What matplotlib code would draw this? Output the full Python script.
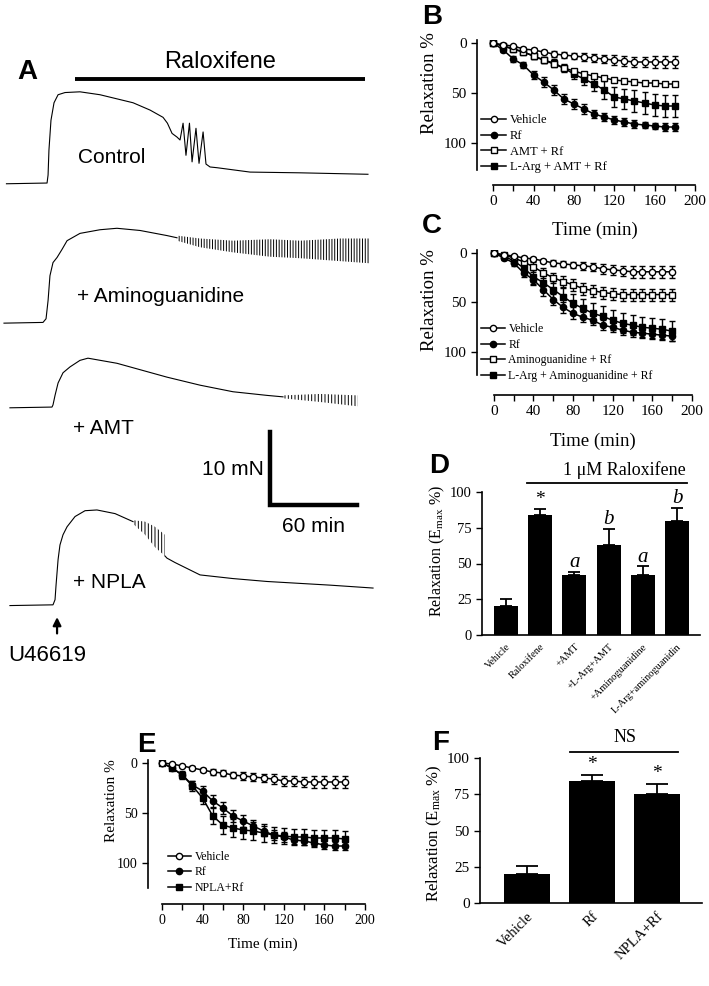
import matplotlib
matplotlib.use("Agg")
import matplotlib.pyplot as plt
from matplotlib.ticker import MultipleLocator
from matplotlib.transforms import ScaledTranslation

plt.rcParams["font.family"] = ["Liberation Serif", "DejaVu Serif"]
plt.rcParams["mathtext.fontset"] = "custom"
plt.rcParams["mathtext.rm"] = "Liberation Serif"
plt.rcParams["mathtext.it"] = "Liberation Serif:italic"
plt.rcParams["hatch.linewidth"] = 0.7
SANS = ["Liberation Sans", "DejaVu Sans"]

# ---------------- panel A: tension traces (time in min, tension in mN above baseline)
ctrl_t = [1, 29, 29.7, 30.3, 31.7, 33.8, 36.6, 41.4, 51.7, 65.5, 88.3, 100, 109, 112, 115.2,
          118.6, 120.7, 122.8, 124.8, 127.2, 129, 131.7, 133.8, 136.6, 138.6, 141.4, 146.2,
          169, 203.4, 250.3]
ctrl_f = [-0.1, 0, 1.1, 4.5, 8.6, 11.0, 12.1, 12.4, 12.5, 12.1, 11.0, 10.0, 9.0, 8.2, 6.8,
          6.3, 5.9, 8.2, 3.8, 8.2, 2.9, 7.5, 2.7, 7.0, 2.6, 2.2, 2.1, 1.5, 1.4, 1.2]

amg_t = [-0.7, 26.2, 28.3, 29.7, 31, 33.1, 35.9, 39.3, 42.8, 51.7, 65.5, 77.2, 93.1, 111.7, 118.6]
amg_f = [-0.1, 0, 0.5, 3.0, 6.4, 8.2, 8.9, 10.0, 11.2, 12.2, 12.7, 12.9, 12.6, 11.9, 11.6]
amg_osc_t = [118.6, 134.5, 157.2, 182.8, 203.4, 231, 251.7]
amg_osc_hi = [11.9, 11.5, 11.2, 11.4, 11.2, 11.5, 11.5]
amg_osc_lo = [11.2, 10.3, 9.6, 9.0, 8.8, 8.4, 8.1]

amt_t = [3.4, 32.4, 33.1, 34.5, 36.6, 40, 44.8, 51.7, 57.2, 77.2, 111.7, 134.5, 157.2, 180.7, 191.7]
amt_f = [-0.1, 0, 0.3, 1.6, 3.3, 4.7, 5.5, 6.4, 6.7, 6.0, 4.1, 3.0, 2.1, 1.6, 1.4]
amt_osc_t = [191.7, 217.2, 243.4]
amt_osc_hi = [1.6, 1.8, 1.6]
amt_osc_lo = [1.2, 0.7, 0.1]

npla_t = [3.4, 33.1, 34.5, 35.2, 36.6, 37.9, 40, 42.8, 48.3, 55.2, 63.4, 75.9, 88.3]
npla_f = [-0.1, 0, 0.7, 2.7, 6.2, 8.2, 9.6, 10.7, 12.1, 12.9, 13.0, 12.5, 11.4]
npla_osc_t = [88.3, 96.6, 103.4, 110.3]
npla_osc_hi = [11.6, 11.4, 10.7, 9.6]
npla_osc_lo = [11.1, 9.6, 7.9, 6.7]
npla_tail_t = [110.3, 111.7, 117.2, 134.5, 157.2, 180.7, 224.1, 253.8]
npla_tail_f = [6.7, 6.4, 5.8, 4.1, 3.6, 3.2, 2.7, 2.3]

# ---------------- panels B, C, E: time courses (relaxation %, mean and SEM)
time_min = [0, 10, 20, 30, 40, 50, 60, 70, 80, 90, 100, 110, 120, 130, 140, 150, 160, 170, 180]

b_veh = [0, 2, 3, 6, 7, 9, 11, 12, 13, 14, 15, 16, 17, 18, 19, 19, 19, 19, 19]
b_veh_err = [0, 1, 1, 2, 2, 2, 3, 3, 3, 4, 4, 4, 5, 5, 5, 5, 6, 6, 6]
b_rf = [0, 7, 16, 22, 32, 39, 47, 56, 61, 66, 71, 74, 77, 79, 81, 82, 83, 84, 84]
b_rf_err = [0, 2, 3, 3, 4, 5, 5, 5, 5, 5, 4, 4, 4, 4, 4, 3, 3, 4, 4]
b_amt = [0, 3, 6, 9, 13, 17, 21, 25, 28, 31, 33, 35, 37, 38, 39, 40, 40, 41, 41]
b_amt_err = [0, 1, 1, 2, 2, 2, 2, 2, 2, 2, 2, 2, 2, 2, 2, 2, 2, 2, 2]
b_larg = [0, 3, 6, 9, 13, 17, 20, 25, 31, 36, 41, 47, 54, 56, 58, 60, 62, 63, 63]
b_larg_err = [0, 1, 2, 2, 3, 3, 4, 4, 5, 6, 7, 9, 10, 10, 11, 11, 11, 11, 11]

c_veh = [0, 2, 3, 5, 6, 8, 10, 11, 12, 13, 14, 16, 17, 18, 19, 19, 19, 19, 19]
c_veh_err = [0, 1, 1, 2, 2, 2, 3, 3, 3, 4, 4, 5, 5, 5, 6, 6, 6, 6, 6]
c_rf = [0, 5, 10, 20, 27, 37, 47, 55, 61, 65, 68, 73, 75, 78, 80, 81, 82, 83, 84]
c_rf_err = [0, 2, 3, 4, 5, 6, 6, 6, 6, 5, 5, 5, 5, 5, 5, 5, 5, 5, 5]
c_amg = [0, 2, 5, 9, 14, 20, 25, 29, 32, 36, 38, 40, 41, 42, 42, 42, 42, 42, 42]
c_amg_err = [0, 2, 3, 4, 5, 5, 5, 6, 6, 6, 6, 6, 6, 6, 6, 6, 6, 6, 6]
c_larg = [0, 3, 8, 15, 24, 30, 37, 44, 51, 56, 61, 64, 68, 71, 73, 75, 76, 77, 79]
c_larg_err = [0, 2, 3, 5, 7, 8, 9, 10, 10, 10, 10, 10, 10, 10, 10, 10, 10, 10, 10]

e_veh = [0, 1, 3, 5, 7, 9, 10, 12, 13, 14, 15, 16, 18, 18, 19, 19, 19, 19, 19]
e_veh_err = [0, 1, 1, 2, 2, 3, 3, 3, 4, 4, 4, 5, 5, 5, 5, 6, 6, 6, 6]
e_rf = [0, 5, 12, 22, 28, 38, 45, 53, 58, 63, 68, 72, 74, 77, 78, 80, 82, 83, 83]
e_rf_err = [0, 2, 3, 4, 5, 6, 6, 6, 6, 6, 5, 5, 5, 4, 4, 4, 4, 4, 4]
e_npla = [0, 5, 12, 23, 35, 53, 62, 65, 67, 68, 70, 72, 73, 74, 74, 75, 75, 75, 76]
e_npla_err = [0, 2, 4, 5, 6, 8, 9, 9, 9, 9, 9, 8, 8, 8, 8, 8, 8, 8, 8]

# ---------------- panels D, F: Emax bars
d_labels = ["Vehicle", "Raloxifene", "+AMT", "+L-Arg+AMT", "+Aminoguanidine", "L-Arg+aminoguanidin"]
d_values = [20, 84, 42, 63, 42, 80]
d_err = [5.5, 4, 2, 11, 6, 9]
d_marks = ["", "*", "a", "b", "a", "b"]

f_labels = ["Vehicle", "Rf", "NPLA+Rf"]
f_values = [20, 84, 75]
f_err = [5.5, 4, 7]
f_marks = ["", "*", "*"]

W, H = 709, 986
fig = plt.figure(figsize=(W / 100, H / 100), dpi=100)


def px_axes(l, t, r, b):
    return fig.add_axes([l / W, 1 - b / H, (r - l) / W, (b - t) / H])


def panel_letter(x, y, s):
    fig.text(x / W, 1 - y / H, s, family=SANS, fontweight="bold", fontsize=20,
             ha="center", va="center")


# ================= A =================
axA = px_axes(0, 40, 380, 680)
axA.set_xlim(-3.45, 258.6)
axA.set_ylim(0, 87.7)
axA.axis("off")
lw_tr = 0.8
off_ctrl, off_amg, off_amt, off_npla = 68.1, 49.0, 37.4, 10.3


def osc_band(t, lo, hi, off, hatch):
    # dense oscillations drawn as a vertically hatched envelope
    axA.fill_between(t, [v + off for v in lo], [v + off for v in hi],
                     facecolor="none", edgecolor="k", hatch=hatch, lw=0)


axA.plot(ctrl_t, [v + off_ctrl for v in ctrl_f], color="k", lw=lw_tr)
axA.plot(amg_t, [v + off_amg for v in amg_f], color="k", lw=lw_tr)
osc_band(amg_osc_t, amg_osc_lo, amg_osc_hi, off_amg, "||||||")
axA.plot(amt_t, [v + off_amt for v in amt_f], color="k", lw=lw_tr)
osc_band(amt_osc_t, amt_osc_lo, amt_osc_hi, off_amt, "|||||")
axA.plot(npla_t, [v + off_npla for v in npla_f], color="k", lw=lw_tr)
osc_band(npla_osc_t, npla_osc_lo, npla_osc_hi, off_npla, "|||||")
axA.plot(npla_tail_t, [v + off_npla for v in npla_tail_f], color="k", lw=lw_tr)

# raloxifene bar (200 min exposure)
axA.plot([48.3, 248.3], [82.3, 82.3], color="k", lw=2.8, solid_capstyle="butt")
axA.text(148.3, 84.7, "Raloxifene", family=SANS, fontsize=17, ha="center", va="center")
axA.text(73.8, 71.6, "Control", family=SANS, fontsize=15, ha="center", va="center")
axA.text(49.7, 52.5, "+ Aminoguanidine", family=SANS, fontsize=15, ha="left", va="center")
axA.text(46.9, 34.5, "+ AMT", family=SANS, fontsize=15, ha="left", va="center")
axA.text(46.9, 13.4, "+ NPLA", family=SANS, fontsize=15, ha="left", va="center")

# scale bar: 10 mN / 60 min
axA.plot([182.8, 182.8, 242.8], [34.0, 24.0, 24.0], color="k", lw=3.2, solid_joinstyle="miter")
axA.text(178.5, 28.8, "10 mN", family=SANS, fontsize=15, ha="right", va="center")
axA.text(212.4, 21.0, "60 min", family=SANS, fontsize=15, ha="center", va="center")

axA.annotate("", xy=(35.9, 9.0), xytext=(35.9, 6.0),
             arrowprops=dict(arrowstyle="-|>", color="k", lw=1.6, mutation_scale=12))
axA.text(29.0, 3.3, "U46619", family=SANS, fontsize=16, ha="center", va="center")


# ================= B, C, E =================
def curve_panel(ax, series, xmin, ybot, spine_bot, tick_fs, lab_fs, leg_fs,
                leg_anchor, ylab_xy, xlab_xy):
    handles = {}
    for label, y, err, marker, filled in reversed(series):
        ax.errorbar(time_min, y, yerr=err, fmt="none", ecolor="k", elinewidth=1,
                    capsize=2.5, capthick=1)
        h, = ax.plot(time_min, y, "-", color="k", lw=1.1, marker=marker, ms=4.5,
                     mfc="k" if filled else "white", mec="k", mew=1)
        handles[label] = h
    labels = [s[0] for s in series]
    ax.legend([handles[l] for l in labels], labels, loc="lower left", bbox_to_anchor=leg_anchor,
              frameon=False, fontsize=leg_fs, handlelength=2.0, handletextpad=0.3,
              labelspacing=0.3, borderaxespad=0, borderpad=0)
    ax.set_xlim(xmin, 200)
    ax.set_ylim(ybot, -3)
    for s in ("top", "right"):
        ax.spines[s].set_visible(False)
    ax.spines["left"].set_bounds(-3, spine_bot)
    ax.spines["bottom"].set_bounds(0, 200)
    for s in ("left", "bottom"):
        ax.spines[s].set_linewidth(1.2)
    ax.set_yticks([0, 50, 100])
    ax.set_xticks(range(0, 201, 40))
    ax.xaxis.set_minor_locator(MultipleLocator(20))
    ax.tick_params(which="both", direction="out", length=4, width=1, labelsize=tick_fs)
    ax.set_ylabel("Relaxation %", fontsize=lab_fs)
    ax.yaxis.set_label_coords(*ylab_xy)
    ax.set_xlabel("Time (min)", fontsize=lab_fs)
    ax.xaxis.set_label_coords(*xlab_xy)


axB = px_axes(477, 40, 695, 185)
curve_panel(axB, [("Vehicle", b_veh, b_veh_err, "o", False),
                  ("Rf", b_rf, b_rf_err, "o", True),
                  ("AMT + Rf", b_amt, b_amt_err, "s", False),
                  ("L-Arg + AMT + Rf", b_larg, b_larg_err, "s", True)],
            -16, 142, 127, 11, 13.5, 9, (0.02, 0.08), (-0.18, 0.70), (0.54, -0.25))

axC = px_axes(477, 250, 692, 395)
curve_panel(axC, [("Vehicle", c_veh, c_veh_err, "o", False),
                  ("Rf", c_rf, c_rf_err, "o", True),
                  ("Aminoguanidine + Rf", c_amg, c_amg_err, "s", False),
                  ("L-Arg + Aminoguanidine + Rf", c_larg, c_larg_err, "s", True)],
            -17, 143.4, 123, 11, 13.5, 8.5, (0.02, 0.09), (-0.18, 0.655), (0.54, -0.26))

axE = px_axes(148, 760, 365, 904)
curve_panel(axE, [("Vehicle", e_veh, e_veh_err, "o", False),
                  ("Rf", e_rf, e_rf_err, "o", True),
                  ("NPLA+Rf", e_npla, e_npla_err, "s", True)],
            -13.8, 141, 125, 10, 11, 8.5, (0.09, 0.07), (-0.14, 0.72), (0.53, -0.23))


# ================= D, F =================
def bar_panel(ax, labels, values, err, marks, xlim, tick_fs, xlab_fs, cap, mark_gap, ylab_fs):
    x = list(range(len(values)))
    ax.bar(x, values, width=0.7, color="k")
    ax.errorbar(x, values, yerr=[[0] * len(err), err], fmt="none", ecolor="k",
                elinewidth=1.3, capsize=cap, capthick=1.3)
    for xi, v, e, m in zip(x, values, err, marks):
        if m:
            ax.text(xi, v + e + mark_gap, m, ha="center", va="center",
                    fontsize=14 if m == "*" else 15,
                    fontstyle="normal" if m == "*" else "italic")
    ax.set_xlim(*xlim)
    ax.set_ylim(0, 100)
    ax.set_yticks([0, 25, 50, 75, 100])
    ax.set_xticks(x)
    ax.set_xticklabels(labels, rotation=45, ha="right", rotation_mode="anchor", fontsize=xlab_fs)
    shift = ScaledTranslation(4 / 72, 0, fig.dpi_scale_trans)
    for lab in ax.get_xticklabels():
        lab.set_transform(lab.get_transform() + shift)
    ax.tick_params(axis="x", length=0, pad=5)
    ax.tick_params(axis="y", direction="out", length=4, width=1, labelsize=tick_fs)
    for s in ("top", "right"):
        ax.spines[s].set_visible(False)
    for s in ("left", "bottom"):
        ax.spines[s].set_linewidth(1.2)
    ax.set_ylabel("Relaxation (E$_{\\mathrm{max}}$ %)", fontsize=ylab_fs)
    return x


axD = px_axes(482, 492, 700, 635)
xd = bar_panel(axD, d_labels, d_values, d_err, d_marks, (-0.7, 5.67), 10.5, 7.5, 4.3, 6.5, 11.5)
axD.yaxis.set_label_coords(-0.16, 0.59)
axD.plot([xd[1] - 0.39, xd[-1] + 0.29], [106, 106], color="k", lw=1.3, clip_on=False)
axD.text((xd[1] + xd[-1]) / 2 + 0.45, 115, "1 \u03bcM Raloxifene", fontsize=13,
         ha="center", va="center")

axF = px_axes(480, 758, 702, 903)
xf = bar_panel(axF, f_labels, f_values, f_err, f_marks, (-0.72, 2.69), 11, 10.5, 8, 7.5, 12)
axF.yaxis.set_label_coords(-0.16, 0.48)
axF.plot([xf[1] - 0.34, xf[2] + 0.32], [104, 104], color="k", lw=1.3, clip_on=False)
axF.text((xf[1] + xf[2]) / 2, 114, "NS", fontsize=13, ha="center", va="center")

panel_letter(27, 72, "A")
panel_letter(432, 17, "B")
panel_letter(432, 226, "C")
panel_letter(439, 466, "D")
panel_letter(146, 745, "E")
panel_letter(441, 743, "F")

fig.savefig("out.png", dpi=100)
